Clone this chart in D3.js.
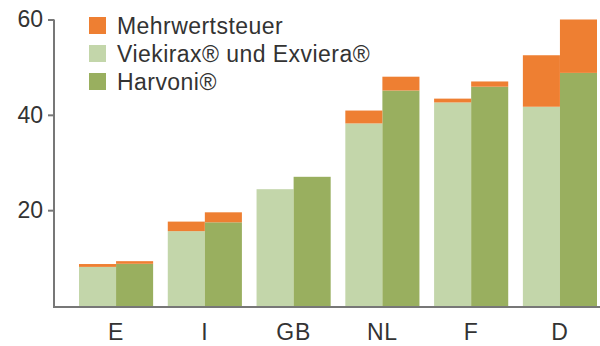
<!DOCTYPE html>
<html>
<head>
<meta charset="utf-8">
<script src="https://cdn.jsdelivr.net/npm/d3@7"></script>
<style>
  html, body { margin: 0; padding: 0; background: #fff; }
  svg { display: block; }
  text { font-family: "Liberation Sans", Arial, Helvetica, sans-serif; fill: #333; }
</style>
</head>
<body>
<svg id="chart" width="600" height="346"></svg>
<script>
const categories = ["E", "I", "GB", "NL", "F", "D"];
const viekirax = [8.1, 15.6, 24.4, 38.2, 42.6, 41.7];
const viekiraxVat = [0.6, 2.0, 0, 2.7, 0.8, 10.8];
const harvoni = [8.75, 17.45, 27.0, 45.1, 45.9, 48.8];
const harvoniVat = [0.55, 2.1, 0, 2.9, 1.1, 11.2];
const yTicks = [20, 40, 60];
const legendLabels = ["Mehrwertsteuer", "Viekirax® und Exviera®", "Harvoni®"];

const colors = { vat: "#EE7F32", light: "#C3D6AA", dark: "#99AF5F" };
const FONT = '"Liberation Sans", Arial, sans-serif';

const svg = d3.select("#chart");
const x = d3.scaleBand().domain(categories).range([79, 597]).paddingInner(0.165).paddingOuter(0);
const sub = d3.scaleBand().domain(["v", "h"]).range([0, x.bandwidth()]);
const y = d3.scaleLinear().domain([0, 60]).range([305.5, 19.5]);

const groups = categories.map((c, i) => ({
  c,
  bars: [
    { k: "v", base: viekirax[i], vat: viekiraxVat[i], color: colors.light },
    { k: "h", base: harvoni[i], vat: harvoniVat[i], color: colors.dark }
  ]
}));

const g = svg.selectAll("g.grp").data(groups).join("g")
  .attr("class", "grp")
  .attr("transform", d => `translate(${x(d.c)},0)`);

g.selectAll("rect.base").data(d => d.bars).join("rect")
  .attr("class", "base")
  .attr("x", b => sub(b.k))
  .attr("width", sub.bandwidth())
  .attr("y", b => y(b.base))
  .attr("height", b => y(0) - y(b.base) + 1)
  .attr("fill", b => b.color);

g.selectAll("rect.vat").data(d => d.bars.filter(b => b.vat > 0)).join("rect")
  .attr("class", "vat")
  .attr("x", b => sub(b.k))
  .attr("width", sub.bandwidth())
  .attr("y", b => y(b.base + b.vat))
  .attr("height", b => y(b.base) - y(b.base + b.vat))
  .attr("fill", colors.vat);

// Y axis
const yAxis = d3.axisLeft(y).tickValues(yTicks).tickSize(6).tickPadding(5).tickFormat(d3.format("d"));
const ya = svg.append("g").attr("transform", "translate(54,0)").call(yAxis);
ya.select(".domain").remove();
ya.selectAll(".tick line").attr("stroke", "#777").attr("stroke-width", 2);
ya.selectAll(".tick text").attr("font-size", 23).attr("fill", "#333")
  .style("font-family", FONT);
svg.append("line").attr("x1", 54).attr("x2", 54).attr("y1", y(60)).attr("y2", 307)
  .attr("stroke", "#777").attr("stroke-width", 2);

// X axis
const xAxis = d3.axisBottom(x).tickSize(0).tickPadding(17);
const xa = svg.append("g").attr("transform", "translate(0,307)").call(xAxis);
xa.select(".domain").remove();
xa.selectAll(".tick text").attr("font-size", 23).attr("fill", "#333")
  .attr("letter-spacing", 0.8)
  .style("font-family", FONT);
svg.append("line").attr("x1", 53).attr("x2", 600).attr("y1", 307).attr("y2", 307)
  .attr("stroke", "#777").attr("stroke-width", 2);

// Legend
const legendColors = [colors.vat, colors.light, colors.dark];
const lg = svg.selectAll("g.leg").data(legendLabels).join("g")
  .attr("class", "leg")
  .attr("transform", (d, i) => `translate(89,${17 + i * 28})`);
lg.append("rect").attr("width", 17).attr("height", 17).attr("fill", (d, i) => legendColors[i]);
lg.append("text").attr("x", 28).attr("y", 17).attr("font-size", 23)
  .attr("letter-spacing", 0.45).text(d => d);
</script>
</body>
</html>
